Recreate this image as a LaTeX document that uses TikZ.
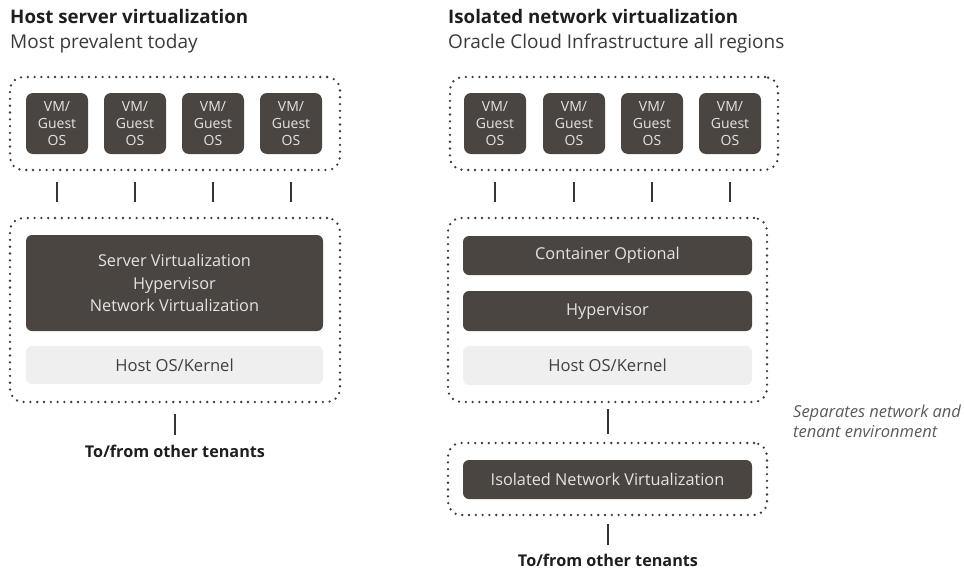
\documentclass[tikz,border=0pt]{standalone}
\usepackage{fontspec}
\setmainfont{Open Sans}
\usetikzlibrary{calc}
\definecolor{darkbox}{HTML}{4A4541}
\definecolor{lightbox}{HTML}{EFEFEF}
\definecolor{boxtxt}{HTML}{E6E4E2}
\definecolor{maintxt}{HTML}{1E1E1E}
\definecolor{subtxt}{HTML}{3A3A3A}
\definecolor{dotc}{HTML}{3C3C3C}
\definecolor{notetxt}{HTML}{5A5A5A}
\begin{document}
\begin{tikzpicture}[x=1pt,y=-1pt,
  dotbox/.style={draw=dotc, line width=2.6pt, dash pattern=on 0pt off 6.8pt, line cap=round, rounded corners=13pt, inner sep=0pt},
  vmbox/.style={fill=darkbox, rounded corners=7pt, minimum width=62pt, minimum height=61pt, inner sep=0pt, text=boxtxt, align=center, font=\fontsize{14}{17}\selectfont},
  darkbar/.style={fill=darkbox, rounded corners=6pt, inner sep=0pt, text=boxtxt, align=center, font=\fontsize{16.3}{22.5}\selectfont},
  lightbar/.style={fill=lightbox, rounded corners=6pt, inner sep=0pt, text=maintxt!85, align=center, font=\fontsize{16.6}{20}\selectfont},
  tick/.style={draw=maintxt!90, line width=1.6pt},
  title/.style={anchor=base west, inner sep=0pt, text=maintxt, font=\fontsize{18.7}{22}\selectfont\bfseries},
  subtitle/.style={anchor=base west, inner sep=0pt, text=subtxt, font=\fontsize{19}{22}\selectfont},
  tenants/.style={inner sep=0pt, text height=12pt, text depth=3.5pt, text=maintxt, font=\fontsize{16.2}{19}\selectfont\bfseries},
  note/.style={anchor=base west, inner sep=0pt, text=notetxt, align=left, font=\fontsize{16.5}{20}\selectfont\itshape}
]
\useasboundingbox (0,0) rectangle (964,573);

% ---------- Left: Host server virtualization ----------
\node[title] (titleL) at (10,23) {Host server virtualization};
\node[subtitle] (subL) at (10,48) {Most prevalent today};

\node[dotbox, minimum width=330pt, minimum height=93pt] (topL) at (175,123.5) {};
\node[vmbox] (vmL1) at (57,123.5) {VM/\\Guest\\OS};
\node[vmbox] (vmL2) at (135,123.5) {VM/\\Guest\\OS};
\node[vmbox] (vmL3) at (213,123.5) {VM/\\Guest\\OS};
\node[vmbox] (vmL4) at (291,123.5) {VM/\\Guest\\OS};

\node[dotbox, minimum width=330pt, minimum height=184pt] (midL) at (175,310) {};
\node[darkbar, minimum width=297pt, minimum height=96pt] (svL) at (174.5,283) {Server Virtualization\\Hypervisor\\Network Virtualization};
\node[lightbar, minimum width=297pt, minimum height=38pt] (hostL) at (174.5,365) {Host OS/Kernel};

\node[tenants] (tenL) at (175,453) {To/from other tenants};

\foreach \v in {vmL1,vmL2,vmL3,vmL4}
  \draw[tick, shorten <=11pt, shorten >=15pt] (\v |- topL.south) -- (\v |- midL.north);
\draw[tick, shorten <=11pt, shorten >=10pt] (midL.south) -- (tenL.north);

% ---------- Right: Isolated network virtualization ----------
\node[title] (titleR) at (448,23) {Isolated network virtualization};
\node[subtitle] (subR) at (448,48) {Oracle Cloud Infrastructure all regions};

\node[dotbox, minimum width=328pt, minimum height=93pt] (topR) at (614,123.5) {};
\node[vmbox] (vmR1) at (495,123.5) {VM/\\Guest\\OS};
\node[vmbox] (vmR2) at (574,123.5) {VM/\\Guest\\OS};
\node[vmbox] (vmR3) at (652,123.5) {VM/\\Guest\\OS};
\node[vmbox] (vmR4) at (730,123.5) {VM/\\Guest\\OS};

\node[dotbox, minimum width=319pt, minimum height=184pt] (midR) at (607.5,310) {};
\node[darkbar, minimum width=289pt, minimum height=39pt] (contR) at (607.5,255.5) {Container Optional};
\node[darkbar, minimum width=289pt, minimum height=40pt] (hypR) at (607.5,311) {Hypervisor};
\node[lightbar, minimum width=289pt, minimum height=39pt] (hostR) at (607.5,365.5) {Host OS/Kernel};

\node[dotbox, minimum width=319pt, minimum height=72pt] (botR) at (607.5,479) {};
\node[darkbar, minimum width=289pt, minimum height=39pt] (isoR) at (607.5,479.5) {Isolated Network Virtualization};

\node[tenants] (tenR) at (608,562) {To/from other tenants};

\node[note] (noteR) at (793,437) {Separates network and\\tenant environment};

\foreach \v in {vmR1,vmR2,vmR3,vmR4}
  \draw[tick, shorten <=11pt, shorten >=15pt] (\v |- topR.south) -- (\v |- midR.north);
\draw[tick, shorten <=6pt, shorten >=8pt] (midR.south -| tenR) -- (botR.north -| tenR);
\draw[tick, shorten <=8pt, shorten >=9pt] (botR.south -| tenR) -- (tenR.north);
\end{tikzpicture}
\end{document}
